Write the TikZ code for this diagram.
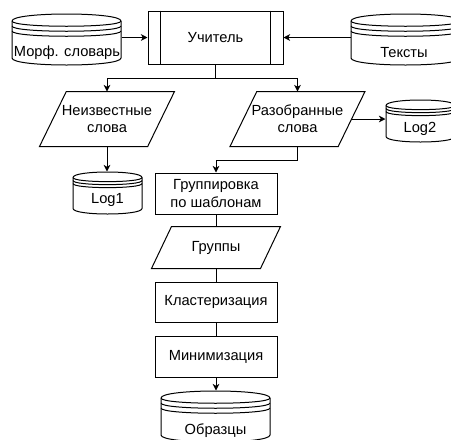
\documentclass[tikz,border=0pt]{standalone}
\usepackage{fontspec}
\setmainfont{Liberation Sans}
\usetikzlibrary{arrows.meta,calc}
\tikzset{
  lbl/.style={font=\fontsize{11}{13}\selectfont, align=center, inner sep=0pt},
  arr/.style={-{Stealth[length=5pt,width=5pt,inset=1.5pt]}},
  boxnode/.style={lbl, draw},
}
% name x y w h dy o  (px, y downward)
\newcommand\dstore[7]{%
  \node[inner sep=0pt, minimum width={#4*0.75pt}, minimum height={#5*0.75pt}] (#1) at ({#2+#4/2},{#3+#5/2}) {};
  \draw[fill=white] (#2,#3+#6) .. controls (#2,#3-#6/3) and (#2+#4,#3-#6/3) .. (#2+#4,#3+#6)
     -- (#2+#4,#3+#5-#6) .. controls (#2+#4,#3+#5+#6/3) and (#2,#3+#5+#6/3) .. (#2,#3+#5-#6) -- cycle;
  \draw (#2,#3+#6) .. controls (#2,#3+2*#6) and (#2+#4,#3+2*#6) .. (#2+#4,#3+#6);
  \draw (#2,#3+#6+#7) .. controls (#2,#3+2*#6+#7) and (#2+#4,#3+2*#6+#7) .. (#2+#4,#3+#6+#7);
  \draw (#2,#3+#6+2*#7) .. controls (#2,#3+2*#6+2*#7) and (#2+#4,#3+2*#6+2*#7) .. (#2+#4,#3+#6+2*#7);
}
% name cx cy w h skew text
\newcommand\parabox[7]{%
  \node[lbl, minimum width={#4*0.75pt}, minimum height={#5*0.75pt}] (#1) at (#2,#3) {#7};
  \draw (#1.south west) -- ([xshift={#6*0.75pt}]#1.north west) -- (#1.north east) -- ([xshift={-#6*0.75pt}]#1.south east) -- cycle;
}
\begin{document}
\begin{tikzpicture}[x=0.75pt, y=-0.75pt, line width=0.75pt]
\useasboundingbox (0,0) rectangle (451,440);
\clip (0,0) rectangle (451,440);

% main process
\node[boxnode, minimum width=101.25pt, minimum height=39.75pt] (teacher) at (215.5,37.5) {Учитель};
\draw ([xshift=9.75pt]teacher.north west) -- ([xshift=9.75pt]teacher.south west);
\draw ([xshift=-9.75pt]teacher.north east) -- ([xshift=-9.75pt]teacher.south east);

% data stores
\dstore{morph}{12}{14}{109}{51}{7}{5}
\node[lbl] (morphT) at (67,52.5) {Морф. словарь};
\dstore{texts}{351}{14}{109}{51}{7}{5}
\node[lbl] (textsT) at (404,53) {Тексты};
\dstore{log1}{73}{172}{69}{42}{5.5}{3}
\node[lbl] (log1T) at (107.5,200) {Log1};
\dstore{log2}{386}{100}{69}{42}{5.5}{3}
\node[lbl] (log2T) at (420,128.5) {Log2};
\dstore{samples}{161}{391}{109}{51}{7}{5}
\node[lbl] (samplesT) at (215.5,431) {Образцы};

% parallelograms
\parabox{unknown}{107}{119}{134}{54}{26.8}{Неизвестные\\слова}
\parabox{parsed}{297.5}{119}{134}{54}{26.8}{Разобранные\\слова}
\parabox{groups}{216}{247.5}{128}{41}{20}{Группы}

% processes
\node[boxnode, minimum width=91.5pt, minimum height=30.75pt] (group) at (216,193.5) {Группировка\\по шаблонам};
\node[boxnode, minimum width=91.5pt, minimum height=30pt] (clust) at (216,302) {Кластеризация};
\node[boxnode, minimum width=91.5pt, minimum height=30.75pt] (mini) at (216,356.5) {Минимизация};

% connectors
\draw[arr] (morph.east |- teacher.west) -- (teacher.west);
\draw[arr] (texts.west |- teacher.east) -- (teacher.east);
\coordinate (split) at ($(teacher.south)+(0,14)$);
\draw (teacher.south) -- (split);
\draw[arr] (split) -| (unknown.north);
\draw[arr] (split) -| (parsed.north);
\draw[arr] (unknown.south) -- (unknown.south |- log1.north);
\coordinate (parsedR) at ($(parsed.north east)!0.5!([xshift=-20.1pt]parsed.south east)$);
\draw[arr] (parsedR) -- (parsedR -| log2.west);
\coordinate (join) at ($(parsed.south)+(0,14)$);
\draw (parsed.south) -- (join);
\draw[arr] (join) -| (group.north);
\draw (group.south) -- (groups.north);
\draw (groups.south) -- (clust.north);
\draw (clust.south) -- (mini.north);
\draw[arr] (mini.south) -- (mini.south |- samples.north);
\end{tikzpicture}
\end{document}
